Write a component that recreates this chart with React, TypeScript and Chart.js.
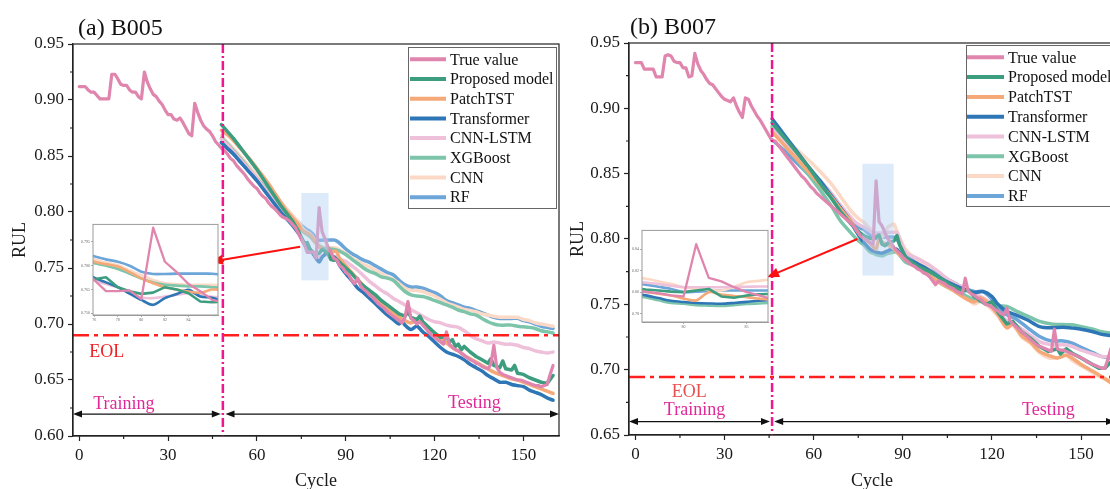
import React, { useEffect, useRef } from 'react';
import { Chart, registerables } from 'chart.js';

Chart.register(...registerables);

type Pair = [number, number];

const SERIF = '"Liberation Serif", "Times New Roman", serif';

const SERIES_LABELS = ['True value', 'Proposed model', 'PatchTST', 'Transformer', 'CNN-LSTM', 'XGBoost', 'CNN', 'RF'];
const SERIES_COLORS = ['#e086ae', '#3c9d7f', '#f5a878', '#2e76b5', '#eec0da', '#7dc5aa', '#fcd9c6', '#6ca5d8'];

const CYCLE_TICKS = [0, 30, 60, 90, 120, 150];
const CYCLE_MINOR_TICKS = [15, 45, 75, 105, 135];
const B005_RUL_TICKS = [0.6, 0.65, 0.7, 0.75, 0.8, 0.85, 0.9, 0.95];
const B005_RUL_MINOR = [0.625, 0.675, 0.725, 0.775, 0.825, 0.875, 0.925];
const B007_RUL_TICKS = [0.65, 0.7, 0.75, 0.8, 0.85, 0.9, 0.95];
const B007_RUL_MINOR = [0.675, 0.725, 0.775, 0.825, 0.875, 0.925];
const B005_INSET_X_TICKS = [76, 78, 80, 82, 84];
const B005_INSET_Y_TICKS = [0.75, 0.765, 0.78, 0.795];
const B007_INSET_X_TICKS = [80, 85];
const B007_INSET_Y_TICKS = [0.78, 0.8, 0.82, 0.84];

// ---------- B005 (cycle = index) ----------
const B005_TRUE = [
  0.912, 0.912, 0.912, 0.909, 0.907, 0.907, 0.904, 0.901, 0.901, 0.901, 0.901,
  0.923, 0.923, 0.919, 0.914, 0.913, 0.913, 0.909, 0.907, 0.907, 0.903, 0.901,
  0.925, 0.916, 0.910, 0.905, 0.903, 0.899, 0.896, 0.891, 0.887, 0.887, 0.883,
  0.882, 0.884, 0.880, 0.875, 0.870, 0.868, 0.897, 0.889, 0.882, 0.877, 0.874,
  0.872, 0.868, 0.863, 0.860, 0.857,
  0.855, 0.852, 0.848, 0.846, 0.842, 0.839, 0.836, 0.833, 0.829, 0.826,
  0.823, 0.821, 0.817, 0.814, 0.812, 0.808, 0.805, 0.803, 0.800, 0.797,
  0.795, 0.794, 0.792, 0.789, 0.786, 0.781, 0.776, 0.771, 0.764, 0.764,
  0.7645, 0.759, 0.804, 0.7825, 0.776, 0.7685, 0.764, 0.7585, 0.757, 0.752,
  0.750, 0.746, 0.744, 0.739, 0.736, 0.741, 0.734, 0.731, 0.729, 0.726,
  0.724, 0.721, 0.718, 0.716, 0.714, 0.711, 0.709, 0.707, 0.705, 0.703,
  0.701, 0.706, 0.720, 0.705, 0.703, 0.700, 0.702, 0.699, 0.696, 0.693,
  0.690, 0.688, 0.686, 0.684, 0.682, 0.693, 0.682, 0.679, 0.677, 0.676,
  0.674, 0.672, 0.670, 0.668, 0.667, 0.665, 0.664, 0.662, 0.661, 0.660,
  0.664, 0.681, 0.661, 0.657, 0.655, 0.654, 0.653, 0.652, 0.651, 0.650,
  0.650, 0.649, 0.648, 0.647, 0.646, 0.645, 0.645, 0.644, 0.645, 0.646,
  0.655, 0.663,
];
const B005_PROPOSED: Pair[] = [[48,0.878],[50,0.872],[52,0.866],[54,0.859],[56,0.852],[58,0.845],[60,0.838],[62,0.830],[64,0.822],[66,0.814],[68,0.806],[70,0.799],[72,0.792],[74,0.783],[75,0.777],[76,0.7715],[77,0.7727],[78,0.7665],[79,0.764],[80,0.7623],[81,0.7631],[82,0.7665],[83,0.765],[84,0.7627],[85,0.7575],[86,0.757],[87,0.7575],[88,0.755],[90,0.750],[92,0.745],[94,0.739],[96,0.734],[98,0.730],[100,0.726],[102,0.721],[104,0.717],[106,0.713],[108,0.709],[110,0.707],[111,0.711],[112,0.706],[114,0.704],[115,0.707],[116,0.702],[118,0.697],[120,0.692],[122,0.688],[124,0.689],[125,0.684],[126,0.686],[127,0.680],[128,0.682],[129,0.677],[130,0.680],[132,0.675],[134,0.671],[136,0.668],[138,0.665],[139,0.669],[140,0.663],[142,0.661],[143,0.667],[144,0.660],[146,0.659],[147,0.663],[148,0.656],[150,0.655],[152,0.652],[154,0.650],[156,0.648],[158,0.647],[160,0.654]];
const B005_PATCHTST: Pair[] = [[48,0.873],[50,0.869],[52,0.864],[54,0.858],[56,0.852],[58,0.846],[60,0.839],[62,0.832],[64,0.825],[66,0.817],[68,0.809],[70,0.801],[72,0.795],[74,0.789],[75,0.785],[76,0.7825],[77,0.781],[78,0.7795],[79,0.776],[80,0.772],[81,0.769],[82,0.7665],[83,0.765],[84,0.7637],[85,0.763],[86,0.765],[87,0.764],[88,0.758],[90,0.752],[92,0.746],[94,0.740],[96,0.734],[98,0.729],[100,0.724],[102,0.719],[104,0.714],[106,0.710],[108,0.706],[110,0.703],[112,0.701],[114,0.703],[116,0.701],[118,0.696],[120,0.692],[122,0.687],[124,0.683],[126,0.679],[128,0.676],[130,0.672],[132,0.669],[134,0.666],[136,0.663],[138,0.660],[140,0.657],[142,0.655],[144,0.653],[146,0.651],[148,0.650],[150,0.648],[152,0.646],[154,0.644],[156,0.642],[158,0.640],[160,0.638]];
const B005_TRANSFORMER: Pair[] = [[48,0.862],[50,0.857],[52,0.852],[54,0.846],[56,0.840],[58,0.834],[60,0.828],[62,0.821],[64,0.814],[66,0.807],[68,0.800],[70,0.794],[72,0.788],[74,0.781],[75,0.777],[76,0.7725],[77,0.7695],[78,0.7665],[79,0.7625],[80,0.7585],[81,0.7554],[82,0.7596],[83,0.7622],[84,0.7648],[85,0.7606],[86,0.7598],[87,0.757],[88,0.752],[90,0.745],[92,0.739],[94,0.732],[96,0.728],[98,0.723],[100,0.718],[102,0.713],[104,0.708],[106,0.704],[108,0.700],[109,0.703],[110,0.699],[112,0.695],[114,0.698],[116,0.693],[118,0.689],[120,0.684],[122,0.679],[124,0.675],[126,0.673],[128,0.671],[130,0.668],[132,0.664],[134,0.661],[136,0.658],[138,0.654],[140,0.651],[142,0.648],[144,0.648],[146,0.646],[148,0.645],[150,0.644],[152,0.641],[154,0.639],[156,0.637],[158,0.634],[160,0.632]];
const B005_CNNLSTM: Pair[] = [[48,0.865],[50,0.860],[52,0.854],[54,0.848],[56,0.842],[58,0.836],[60,0.830],[62,0.823],[64,0.816],[66,0.809],[68,0.802],[70,0.796],[72,0.789],[74,0.782],[75,0.776],[76,0.771],[77,0.7685],[78,0.7665],[79,0.7635],[80,0.760],[81,0.7596],[82,0.7606],[83,0.7617],[84,0.7627],[85,0.7617],[86,0.7605],[87,0.760],[88,0.758],[90,0.756],[92,0.752],[94,0.748],[96,0.743],[98,0.738],[100,0.734],[102,0.730],[104,0.727],[106,0.723],[108,0.720],[110,0.717],[112,0.713],[114,0.710],[116,0.707],[118,0.704],[120,0.702],[122,0.701],[124,0.699],[126,0.698],[128,0.697],[130,0.694],[132,0.690],[134,0.687],[136,0.685],[138,0.683],[140,0.684],[142,0.683],[144,0.682],[146,0.682],[148,0.681],[150,0.679],[152,0.678],[154,0.676],[156,0.675],[158,0.674],[160,0.675]];
const B005_XGBOOST: Pair[] = [[48,0.866],[50,0.861],[52,0.855],[54,0.849],[56,0.843],[58,0.836],[60,0.830],[62,0.824],[64,0.818],[66,0.811],[68,0.805],[70,0.799],[72,0.793],[74,0.787],[75,0.784],[76,0.7815],[77,0.780],[78,0.778],[79,0.775],[80,0.772],[81,0.7695],[82,0.768],[83,0.7675],[84,0.767],[85,0.767],[86,0.7665],[87,0.766],[88,0.765],[90,0.762],[92,0.758],[94,0.754],[96,0.750],[98,0.747],[100,0.745],[102,0.742],[104,0.741],[106,0.739],[108,0.734],[110,0.729],[112,0.726],[114,0.725],[116,0.7245],[118,0.723],[120,0.721],[122,0.719],[124,0.717],[126,0.715],[128,0.7125],[130,0.711],[132,0.709],[134,0.708],[136,0.705],[138,0.702],[140,0.700],[142,0.699],[144,0.699],[146,0.699],[148,0.698],[150,0.6975],[152,0.697],[154,0.696],[156,0.694],[158,0.693],[160,0.692]];
const B005_CNN: Pair[] = [[48,0.868],[50,0.862],[52,0.857],[54,0.851],[56,0.845],[58,0.839],[60,0.833],[62,0.827],[64,0.821],[66,0.815],[68,0.809],[70,0.803],[72,0.797],[74,0.791],[75,0.787],[76,0.784],[77,0.782],[78,0.7804],[79,0.777],[80,0.774],[81,0.771],[82,0.769],[83,0.7685],[84,0.768],[85,0.768],[86,0.768],[87,0.7675],[88,0.766],[90,0.763],[92,0.759],[94,0.756],[96,0.753],[98,0.751],[100,0.748],[102,0.745],[104,0.742],[106,0.740],[108,0.736],[110,0.732],[112,0.730],[114,0.730],[116,0.729],[118,0.727],[120,0.725],[122,0.722],[124,0.719],[126,0.717],[128,0.715],[130,0.713],[132,0.712],[134,0.711],[136,0.709],[138,0.708],[140,0.707],[142,0.706],[144,0.706],[146,0.706],[148,0.706],[150,0.704],[152,0.703],[154,0.701],[156,0.700],[158,0.699],[160,0.698]];
const B005_RF: Pair[] = [[48,0.862],[50,0.857],[52,0.852],[54,0.846],[56,0.840],[58,0.834],[60,0.828],[62,0.822],[64,0.816],[66,0.811],[68,0.805],[70,0.800],[72,0.795],[74,0.791],[75,0.788],[76,0.786],[77,0.784],[78,0.7825],[79,0.780],[80,0.7762],[81,0.7748],[82,0.7748],[83,0.775],[84,0.775],[85,0.775],[86,0.775],[87,0.774],[88,0.772],[90,0.767],[92,0.763],[94,0.760],[96,0.757],[98,0.755],[100,0.752],[102,0.749],[104,0.746],[106,0.744],[108,0.739],[110,0.735],[112,0.733],[114,0.733],[116,0.732],[118,0.730],[120,0.728],[122,0.725],[124,0.721],[126,0.719],[128,0.717],[130,0.715],[132,0.714],[134,0.712],[136,0.710],[138,0.708],[140,0.706],[142,0.705],[144,0.705],[146,0.705],[148,0.705],[150,0.703],[152,0.702],[154,0.700],[156,0.698],[158,0.697],[160,0.696]];

// ---------- B007 (cycle = index) ----------
const B007_TRUE = [
  0.935, 0.935, 0.935, 0.930, 0.930, 0.930, 0.930, 0.924, 0.924, 0.924,
  0.940, 0.941, 0.940, 0.936, 0.935, 0.935, 0.931, 0.931, 0.924, 0.925,
  0.942, 0.934, 0.929, 0.926, 0.922, 0.919, 0.918, 0.915, 0.912, 0.909,
  0.907, 0.906, 0.905, 0.908, 0.902, 0.897, 0.893, 0.908, 0.907, 0.902,
  0.898, 0.894, 0.891, 0.887, 0.883, 0.879, 0.875,
  0.875, 0.872, 0.869, 0.866, 0.863, 0.860, 0.857, 0.854, 0.851, 0.848,
  0.846, 0.843, 0.840, 0.838, 0.835, 0.833, 0.831, 0.829, 0.827, 0.825,
  0.823, 0.821, 0.819, 0.817, 0.815, 0.813, 0.811, 0.808, 0.805, 0.802,
  0.800, 0.799, 0.797, 0.796, 0.8445, 0.8132, 0.810, 0.8046, 0.800, 0.797,
  0.7935, 0.791, 0.789, 0.786, 0.784, 0.782, 0.780, 0.779, 0.777, 0.776,
  0.774, 0.773, 0.771, 0.768, 0.765, 0.768, 0.767, 0.766, 0.764, 0.763,
  0.762, 0.760, 0.759, 0.758, 0.770, 0.760, 0.758, 0.757, 0.755, 0.754,
  0.752, 0.750, 0.749, 0.748, 0.746, 0.745, 0.743, 0.742, 0.747, 0.738,
  0.735, 0.733, 0.731, 0.729, 0.727, 0.725, 0.723, 0.721, 0.719, 0.718,
  0.717, 0.716, 0.715, 0.714, 0.731, 0.716, 0.715, 0.715, 0.714, 0.713,
  0.712, 0.711, 0.710, 0.709, 0.708, 0.706, 0.705, 0.704, 0.703, 0.702,
  0.701, 0.701, 0.708, 0.716,
];
const B007_PROPOSED: Pair[] = [[46,0.889],[50,0.878],[54,0.867],[58,0.856],[62,0.843],[66,0.831],[69,0.821],[72,0.813],[74,0.808],[76,0.804],[77,0.8025],[78,0.8015],[79,0.8005],[80,0.800],[81,0.8015],[82,0.803],[83,0.796],[84,0.7948],[85,0.7969],[86,0.798],[87,0.7985],[88,0.8027],[89,0.795],[91,0.786],[95,0.779],[99,0.775],[102,0.771],[106,0.765],[110,0.760],[112,0.761],[114,0.756],[118,0.750],[120,0.752],[122,0.744],[125,0.735],[127,0.737],[130,0.729],[133,0.724],[136,0.7177],[139,0.714],[142,0.716],[143,0.712],[145,0.716],[147,0.7126],[150,0.709],[153,0.705],[156,0.701],[158,0.701],[160,0.706]];
const B007_PATCHTST: Pair[] = [[46,0.882],[50,0.872],[54,0.862],[58,0.852],[62,0.842],[66,0.832],[69,0.823],[72,0.815],[74,0.808],[76,0.802],[77,0.8005],[78,0.7985],[79,0.7969],[80,0.794],[81,0.7923],[82,0.800],[83,0.7978],[84,0.7965],[85,0.7954],[86,0.794],[87,0.7925],[88,0.790],[91,0.784],[95,0.778],[99,0.772],[102,0.767],[106,0.762],[110,0.756],[114,0.7518],[116,0.755],[119,0.750],[122,0.742],[125,0.732],[127,0.735],[130,0.726],[133,0.721],[136,0.714],[139,0.711],[142,0.709],[145,0.711],[147,0.7088],[150,0.704],[153,0.700],[156,0.696],[158,0.693],[160,0.690]];
const B007_TRANSFORMER: Pair[] = [[46,0.892],[50,0.880],[54,0.868],[58,0.856],[62,0.845],[66,0.833],[69,0.824],[72,0.815],[74,0.807],[76,0.800],[77,0.797],[78,0.7945],[79,0.792],[80,0.7908],[81,0.790],[82,0.7895],[83,0.7892],[84,0.790],[85,0.791],[86,0.792],[87,0.7925],[88,0.792],[90,0.787],[92,0.784],[95,0.781],[99,0.776],[102,0.771],[106,0.766],[110,0.762],[114,0.759],[117,0.7598],[120,0.756],[122,0.750],[125,0.7445],[128,0.742],[132,0.738],[136,0.733],[140,0.732],[144,0.7325],[147,0.7318],[150,0.731],[154,0.729],[157,0.727],[160,0.7262]];
const B007_CNNLSTM: Pair[] = [[46,0.884],[50,0.874],[54,0.865],[58,0.855],[62,0.845],[66,0.835],[69,0.826],[72,0.818],[74,0.813],[76,0.810],[77,0.809],[78,0.8075],[79,0.806],[80,0.8046],[81,0.8046],[82,0.8046],[83,0.8046],[84,0.8048],[85,0.805],[86,0.8052],[87,0.8052],[88,0.805],[91,0.790],[95,0.785],[99,0.780],[102,0.775],[106,0.768],[110,0.763],[114,0.7578],[117,0.755],[120,0.750],[122,0.744],[125,0.7375],[128,0.734],[132,0.728],[136,0.7215],[140,0.719],[144,0.719],[147,0.7177],[150,0.715],[154,0.712],[157,0.710],[160,0.710]];
const B007_XGBOOST: Pair[] = [[46,0.886],[50,0.874],[54,0.862],[58,0.850],[62,0.838],[66,0.825],[69,0.814],[72,0.806],[74,0.801],[76,0.797],[77,0.795],[78,0.7925],[79,0.790],[80,0.7892],[81,0.788],[82,0.7875],[83,0.7871],[84,0.788],[85,0.789],[86,0.7895],[87,0.790],[88,0.790],[91,0.7822],[95,0.779],[99,0.772],[102,0.767],[106,0.762],[110,0.758],[114,0.7534],[117,0.752],[120,0.751],[122,0.749],[125,0.7484],[128,0.745],[132,0.741],[136,0.7369],[140,0.735],[144,0.7345],[147,0.7343],[150,0.733],[154,0.731],[157,0.729],[160,0.728]];
const B007_CNN: Pair[] = [[46,0.886],[50,0.878],[54,0.869],[58,0.861],[62,0.852],[66,0.842],[69,0.8326],[72,0.823],[74,0.818],[76,0.814],[77,0.8125],[78,0.810],[79,0.8077],[80,0.8046],[81,0.8031],[82,0.802],[83,0.8015],[84,0.805],[85,0.8092],[86,0.8105],[87,0.8114],[88,0.806],[91,0.7917],[95,0.784],[99,0.777],[102,0.770],[106,0.764],[110,0.758],[114,0.7502],[116,0.752],[119,0.748],[122,0.741],[125,0.7325],[127,0.734],[130,0.725],[133,0.720],[136,0.713],[139,0.709],[142,0.709],[145,0.711],[147,0.707],[150,0.703],[153,0.699],[156,0.695],[158,0.693],[160,0.692]];
const B007_RF: Pair[] = [[46,0.876],[50,0.868],[54,0.859],[58,0.850],[62,0.841],[66,0.832],[69,0.824],[72,0.815],[74,0.811],[76,0.808],[77,0.807],[78,0.805],[79,0.803],[80,0.800],[81,0.8005],[82,0.801],[83,0.8015],[84,0.8015],[85,0.8015],[86,0.8015],[87,0.8015],[88,0.800],[91,0.787],[95,0.782],[99,0.777],[102,0.7726],[106,0.768],[110,0.763],[114,0.7598],[117,0.7598],[120,0.754],[122,0.748],[125,0.742],[128,0.739],[132,0.732],[136,0.7254],[140,0.722],[144,0.722],[147,0.7203],[150,0.717],[154,0.713],[157,0.710],[160,0.7088]];

const B005_PREDS = [B005_PROPOSED, B005_PATCHTST, B005_TRANSFORMER, B005_CNNLSTM, B005_XGBOOST, B005_CNN, B005_RF];
const B007_PREDS = [B007_PROPOSED, B007_PATCHTST, B007_TRANSFORMER, B007_CNNLSTM, B007_XGBOOST, B007_CNN, B007_RF];

function buildDatasets(trueVals: number[], preds: Pair[][], width: number) {
  const all = [trueVals.map((v, i) => ({ x: i, y: v })), ...preds.map((p) => p.map(([x, y]) => ({ x, y })))];
  return all.map((data, i) => ({
    label: SERIES_LABELS[i],
    data,
    borderColor: SERIES_COLORS[i],
    backgroundColor: SERIES_COLORS[i],
    borderWidth: i === 0 ? width - 0.3 : width,
    pointRadius: 0,
    pointHoverRadius: 0,
    tension: i <= 1 ? 0 : 0.3,
    fill: false,
    borderJoinStyle: 'round',
    borderCapStyle: 'round',
  }));
}

const PANEL_A = {
  title: '(a) B005', left: 0, width: 565, padTop: 44, padRight: 6, yAxisWidth: 73, xAxisHeight: 53, yTitlePad: 9,
  xMin: -2.1, xMax: 162, yMin: 0.6, yMax: 0.95, yTicks: B005_RUL_TICKS, yMinor: B005_RUL_MINOR,
  trueVals: B005_TRUE, preds: B005_PREDS,
  split: 48.5, eol: 0.69, zoomBox: [75, 84.2, 0.739, 0.817],
  arrowFrom: [74.6, 0.769], arrowTo: [44.5, 0.7556],
  phaseY: 0.6196, trainEnd: 47.8, testStart: 49.4,
  eolColor: '#ee2226',
  eolText: [3.4, 0.675, 'left'], trainText: [4.7, 0.6286, 'left'], testText: [124.5, 0.6295, 'left'],
  titleX: 78, titleY: 35,
  legend: { boxLeft: 408, boxTop: 47, boxRight: 556, boxBottom: 208, lineX0: 410, lineX1: 446, textX: 450, firstY: 59.3, step: 19.7 },
};

const PANEL_B = {
  title: '(b) B007', left: 557, width: 561, padTop: 43, padRight: 3, yAxisWidth: 72, xAxisHeight: 54, yTitlePad: 10,
  xMin: -2.15, xMax: 161.4, yMin: 0.65, yMax: 0.95, yTicks: B007_RUL_TICKS, yMinor: B007_RUL_MINOR,
  trueVals: B007_TRUE, preds: B007_PREDS,
  split: 46.0, eol: 0.6943, zoomBox: [76.4, 86.9, 0.772, 0.8576],
  arrowFrom: [74.7, 0.8], arrowTo: [44.3, 0.7708],
  phaseY: 0.6603, trainEnd: 45.3, testStart: 46.7,
  eolColor: '#e8504f',
  eolText: [18.1, 0.6826, 'center'], trainText: [19.9, 0.669, 'center'], testText: [139, 0.669, 'center'],
  titleX: 73, titleY: 34,
  legend: { boxLeft: 409, boxTop: 45, boxRight: 575, boxBottom: 206, lineX0: 410, lineX1: 447, textX: 451, firstY: 57.3, step: 19.8 },
};

const INSET_A = {
  left: 78, top: 221, width: 143, height: 104, padTop: 3, padRight: 3, yAxisWidth: 15, xAxisHeight: 10,
  xMin: 75.9, xMax: 86.5, yMin: 0.749, yMax: 0.806, xTicks: B005_INSET_X_TICKS, yTicks: B005_INSET_Y_TICKS, yDigits: 3,
  trueVals: B005_TRUE, preds: B005_PREDS,
};
const INSET_B = {
  left: 628, top: 227, width: 143, height: 106, padTop: 3, padRight: 3, yAxisWidth: 14, xAxisHeight: 11,
  xMin: 76.7, xMax: 86.7, yMin: 0.7723, yMax: 0.8573, xTicks: B007_INSET_X_TICKS, yTicks: B007_INSET_Y_TICKS, yDigits: 2,
  trueVals: B007_TRUE, preds: B007_PREDS,
};

function drawHead(ctx: any, fx: number, fy: number, tx: number, ty: number, len: number, half: number, color: string) {
  const ang = Math.atan2(ty - fy, tx - fx);
  const bx = tx - len * Math.cos(ang);
  const by = ty - len * Math.sin(ang);
  ctx.beginPath();
  ctx.moveTo(tx, ty);
  ctx.lineTo(bx + half * Math.sin(ang), by - half * Math.cos(ang));
  ctx.lineTo(bx - half * Math.sin(ang), by + half * Math.cos(ang));
  ctx.closePath();
  ctx.fillStyle = color;
  ctx.fill();
}

function makeDecor(cfg: any) {
  return {
    id: 'decor',
    afterDatasetsDraw(chart: any) {
      const { ctx, chartArea: a } = chart;
      const xs = chart.scales.x;
      const ys = chart.scales.y;
      const px = (v: number) => xs.getPixelForValue(v);
      const py = (v: number) => ys.getPixelForValue(v);
      ctx.save();
      const [bx0, bx1, by0, by1] = cfg.zoomBox;
      ctx.fillStyle = 'rgba(178,208,245,0.45)';
      ctx.fillRect(px(bx0), py(by1), px(bx1) - px(bx0), py(by0) - py(by1));
      ctx.strokeStyle = '#ff1f1f';
      ctx.lineWidth = 2.5;
      ctx.setLineDash([16, 5, 4, 5]);
      ctx.beginPath();
      ctx.moveTo(a.left, py(cfg.eol));
      ctx.lineTo(a.right, py(cfg.eol));
      ctx.stroke();
      ctx.strokeStyle = '#f0168e';
      ctx.setLineDash([9, 3, 2, 3]);
      ctx.beginPath();
      ctx.moveTo(px(cfg.split), a.top);
      ctx.lineTo(px(cfg.split), a.bottom);
      ctx.stroke();
      ctx.setLineDash([]);
      const fx = px(cfg.arrowFrom[0]), fy = py(cfg.arrowFrom[1]);
      const tx = px(cfg.arrowTo[0]), ty = py(cfg.arrowTo[1]);
      const ang = Math.atan2(ty - fy, tx - fx);
      ctx.strokeStyle = '#ff1010';
      ctx.lineWidth = 2;
      ctx.beginPath();
      ctx.moveTo(fx, fy);
      ctx.lineTo(tx - 9 * Math.cos(ang), ty - 9 * Math.sin(ang));
      ctx.stroke();
      drawHead(ctx, fx, fy, tx, ty, 12, 5, '#ff1010');
      const yy = py(cfg.phaseY);
      const segs = [[a.left, px(cfg.trainEnd)], [px(cfg.testStart), a.right]];
      ctx.strokeStyle = '#111';
      ctx.lineWidth = 1.3;
      segs.forEach(([s, e]) => {
        ctx.beginPath();
        ctx.moveTo(s + 6, yy);
        ctx.lineTo(e - 6, yy);
        ctx.stroke();
        drawHead(ctx, e - 10, yy, e, yy, 9, 3.5, '#111');
        drawHead(ctx, s + 10, yy, s, yy, 9, 3.5, '#111');
      });
      ctx.font = `18px ${SERIF}`;
      ctx.textBaseline = 'middle';
      const put = (t: any, text: string, color: string) => {
        ctx.fillStyle = color;
        ctx.textAlign = t[2];
        ctx.fillText(text, px(t[0]), py(t[1]));
      };
      put(cfg.eolText, 'EOL', cfg.eolColor);
      put(cfg.trainText, 'Training', '#e0289a');
      put(cfg.testText, 'Testing', '#e0289a');
      ctx.restore();
    },
    afterDraw(chart: any) {
      const { ctx, chartArea: a } = chart;
      const xs = chart.scales.x;
      const ys = chart.scales.y;
      ctx.save();
      ctx.strokeStyle = '#222';
      ctx.lineWidth = 1.2;
      ctx.strokeRect(a.left, a.top, a.right - a.left, a.bottom - a.top);
      ctx.beginPath();
      CYCLE_MINOR_TICKS.forEach((v) => {
        const x = xs.getPixelForValue(v);
        ctx.moveTo(x, a.bottom);
        ctx.lineTo(x, a.bottom + 3);
      });
      cfg.yMinor.forEach((v: number) => {
        const y = ys.getPixelForValue(v);
        ctx.moveTo(a.left - 3, y);
        ctx.lineTo(a.left, y);
      });
      ctx.stroke();
      const L = cfg.legend;
      ctx.fillStyle = '#fff';
      ctx.fillRect(L.boxLeft, L.boxTop, L.boxRight - L.boxLeft, L.boxBottom - L.boxTop);
      ctx.strokeStyle = '#666';
      ctx.lineWidth = 1;
      ctx.strokeRect(L.boxLeft + 0.5, L.boxTop + 0.5, L.boxRight - L.boxLeft, L.boxBottom - L.boxTop);
      ctx.font = `16px ${SERIF}`;
      ctx.textAlign = 'left';
      ctx.textBaseline = 'middle';
      chart.data.datasets.forEach((ds: any, i: number) => {
        const y = L.firstY + i * L.step;
        ctx.strokeStyle = ds.borderColor;
        ctx.lineWidth = 4;
        ctx.beginPath();
        ctx.moveTo(L.lineX0, y);
        ctx.lineTo(L.lineX1, y);
        ctx.stroke();
        ctx.fillStyle = '#111';
        ctx.fillText(ds.label, L.textX, y + 1);
      });
      ctx.font = `24px ${SERIF}`;
      ctx.textBaseline = 'alphabetic';
      ctx.fillStyle = '#111';
      ctx.fillText(cfg.title, cfg.titleX, cfg.titleY);
      ctx.restore();
    },
  };
}

function PanelChart({ cfg }: { cfg: any }) {
  const ref = useRef<HTMLCanvasElement>(null);
  useEffect(() => {
    const canvas = ref.current;
    if (!canvas) return;
    const tickFont = { family: SERIF, size: 17 };
    const titleFont = { family: SERIF, size: 18 };
    const chart = new Chart(canvas, {
      type: 'line',
      data: { datasets: buildDatasets(cfg.trueVals, cfg.preds, 3.5) as any },
      options: {
        animation: false,
        responsive: false,
        devicePixelRatio: 1,
        events: [],
        layout: { padding: { left: 0, right: cfg.padRight, top: cfg.padTop, bottom: 0 } },
        plugins: { legend: { display: false }, tooltip: { enabled: false }, title: { display: false } },
        scales: {
          x: {
            type: 'linear',
            min: cfg.xMin,
            max: cfg.xMax,
            afterBuildTicks: (s: any) => { s.ticks = CYCLE_TICKS.map((v) => ({ value: v })); },
            afterFit: (s: any) => { s.height = cfg.xAxisHeight; },
            ticks: { font: tickFont, color: '#1a1a1a', padding: 4, maxRotation: 0, autoSkip: false, callback: (v: any) => String(v) },
            grid: { display: true, drawOnChartArea: false, drawTicks: true, tickLength: 5, tickColor: '#222', tickWidth: 1.2 },
            border: { display: true, color: '#222', width: 1.2 },
            title: { display: true, text: 'Cycle', font: titleFont, color: '#1a1a1a', padding: { top: 0, bottom: -3 } },
          },
          y: {
            type: 'linear',
            min: cfg.yMin,
            max: cfg.yMax,
            afterBuildTicks: (s: any) => { s.ticks = cfg.yTicks.map((v: number) => ({ value: v })); },
            afterFit: (s: any) => { s.width = cfg.yAxisWidth; },
            ticks: { font: tickFont, color: '#1a1a1a', padding: 4, autoSkip: false, callback: (v: any) => Number(v).toFixed(2) },
            grid: { display: true, drawOnChartArea: false, drawTicks: true, tickLength: 5, tickColor: '#222', tickWidth: 1.2 },
            border: { display: true, color: '#222', width: 1.2 },
            title: { display: true, text: 'RUL', font: titleFont, color: '#1a1a1a', padding: { top: cfg.yTitlePad, bottom: 0 } },
          },
        },
      } as any,
      plugins: [makeDecor(cfg)],
    });
    return () => chart.destroy();
  }, [cfg]);
  return (
    <canvas
      ref={ref}
      width={cfg.width}
      height={489}
      style={{ position: 'absolute', left: cfg.left, top: 0, width: cfg.width, height: 489 }}
    />
  );
}

function InsetChart({ cfg }: { cfg: any }) {
  const ref = useRef<HTMLCanvasElement>(null);
  useEffect(() => {
    const canvas = ref.current;
    if (!canvas) return;
    const tickFont = { family: SERIF, size: 4 };
    const frame = {
      id: 'insetFrame',
      beforeDatasetsDraw(chart: any) {
        const { ctx, chartArea: a } = chart;
        ctx.save();
        ctx.fillStyle = '#fff';
        ctx.fillRect(a.left, a.top, a.right - a.left, a.bottom - a.top);
        ctx.restore();
      },
      afterDraw(chart: any) {
        const { ctx, chartArea: a } = chart;
        ctx.save();
        ctx.strokeStyle = '#9a9a9a';
        ctx.lineWidth = 1;
        ctx.strokeRect(a.left, a.top, a.right - a.left, a.bottom - a.top);
        ctx.restore();
      },
    };
    const chart = new Chart(canvas, {
      type: 'line',
      data: { datasets: buildDatasets(cfg.trueVals, cfg.preds, 2.6) as any },
      options: {
        animation: false,
        responsive: false,
        devicePixelRatio: 1,
        events: [],
        layout: { padding: { left: 0, right: cfg.padRight, top: cfg.padTop, bottom: 0 } },
        plugins: { legend: { display: false }, tooltip: { enabled: false }, title: { display: false } },
        scales: {
          x: {
            type: 'linear',
            min: cfg.xMin,
            max: cfg.xMax,
            afterBuildTicks: (s: any) => { s.ticks = cfg.xTicks.map((v: number) => ({ value: v })); },
            afterFit: (s: any) => { s.height = cfg.xAxisHeight; },
            ticks: { font: tickFont, color: '#666', padding: 1, maxRotation: 0, autoSkip: false, callback: (v: any) => String(v) },
            grid: { display: true, drawOnChartArea: false, drawTicks: true, tickLength: 2, tickColor: '#999', tickWidth: 0.8 },
            border: { display: true, color: '#9a9a9a', width: 1 },
          },
          y: {
            type: 'linear',
            min: cfg.yMin,
            max: cfg.yMax,
            afterBuildTicks: (s: any) => { s.ticks = cfg.yTicks.map((v: number) => ({ value: v })); },
            afterFit: (s: any) => { s.width = cfg.yAxisWidth; },
            ticks: { font: tickFont, color: '#666', padding: 1, autoSkip: false, callback: (v: any) => Number(v).toFixed(cfg.yDigits) },
            grid: { display: true, drawOnChartArea: false, drawTicks: true, tickLength: 2, tickColor: '#999', tickWidth: 0.8 },
            border: { display: true, color: '#9a9a9a', width: 1 },
          },
        },
      } as any,
      plugins: [frame],
    });
    return () => chart.destroy();
  }, [cfg]);
  return (
    <canvas
      ref={ref}
      width={cfg.width}
      height={cfg.height}
      style={{ position: 'absolute', left: cfg.left, top: cfg.top, width: cfg.width, height: cfg.height }}
    />
  );
}

export default function App() {
  return (
    <div style={{ position: 'absolute', left: 0, top: 0, width: 1110, height: 489, overflow: 'hidden', background: '#fff' }}>
      <PanelChart cfg={PANEL_A} />
      <PanelChart cfg={PANEL_B} />
      <InsetChart cfg={INSET_A} />
      <InsetChart cfg={INSET_B} />
    </div>
  );
}
